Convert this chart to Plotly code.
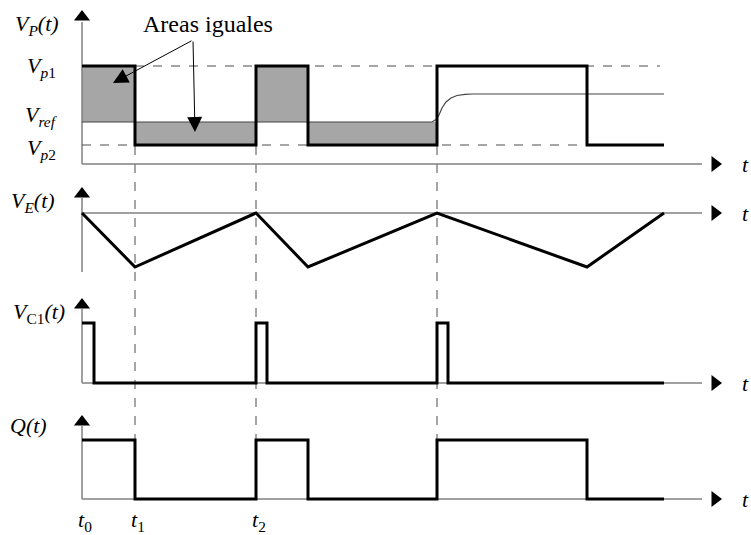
import plotly.graph_objects as go

# ---------------- data (schematic units) ----------------
t_edges = [0, 5.3, 17.4, 22.6, 35.5, 50.5, 58.2]   # switching instants
states = [1, 0, 1, 0, 1, 0]                          # Q / Vp state per interval
VP1, VP2, VREF = 9.8, 1.9, 4.2
vref_t = [0, 35.0, 35.4, 35.7, 36.0, 36.4, 36.9, 37.5, 38.3, 39.0, 58.2]
vref_v = [4.2, 4.2, 4.45, 4.9, 5.6, 6.2, 6.6, 6.85, 6.97, 7.0, 7.0]
ve_t = [0, 5.3, 17.4, 22.6, 35.5, 50.5, 58.2]
ve_v = [0, -5.4, 0, -5.4, 0, -5.4, 0]
vc1_pulses = [(0, 1.2), (17.4, 18.5), (35.5, 36.6)]
VC1_HIGH = 6.0
Q_HIGH = 5.9
FILL_END = 35.5
T_AXIS_END = 62.0
T_ARROW = 63.3
time_marks = [("t", "0", 0), ("t", "1", 5.3), ("t", "2", 17.4)]

BLACK = "#000000"
GRAY = "#808080"
DGRAY = "#4d4d4d"
FILLC = "#a6a6a6"
FONT = "Liberation Serif"


def step(levels_hi, levels_lo):
    xs, ys = [], []
    for i, s in enumerate(states):
        a, b = t_edges[i], t_edges[i + 1]
        v = levels_hi if s else levels_lo
        xs += [a, b]
        ys += [v, v]
    return xs, ys


fig = go.Figure()

H = 535.0
def pdom(top_px, bot_px):
    return [1 - bot_px / H, 1 - top_px / H]

fig.update_layout(
    width=751, height=535, margin=dict(l=0, r=0, t=0, b=0),
    paper_bgcolor="white", plot_bgcolor="white", showlegend=False,
    xaxis=dict(range=[-8.2, 66.9], visible=False, anchor="y4", fixedrange=True),
    yaxis=dict(domain=pdom(0, 175), range=[-1.1, 16.4], visible=False, anchor="x"),
    yaxis2=dict(domain=pdom(180, 280), range=[-6.7, 3.3], visible=False, anchor="x"),
    yaxis3=dict(domain=pdom(285, 395), range=[-1.2, 9.8], visible=False, anchor="x"),
    yaxis4=dict(domain=pdom(400, 535), range=[-3.6, 9.9], visible=False, anchor="x"),
)

def line(x, y, ya, color=BLACK, width=3, dash="solid", **kw):
    fig.add_trace(go.Scatter(x=x, y=y, mode="lines", yaxis=ya, xaxis="x",
                             line=dict(color=color, width=width, dash=dash),
                             hoverinfo="skip", **kw))

def marker(x, y, ya, sym, size=14):
    fig.add_trace(go.Scatter(x=[x], y=[y], mode="markers", yaxis=ya, xaxis="x",
                             marker=dict(symbol=sym, size=size, color=BLACK,
                                         line=dict(width=0)),
                             hoverinfo="skip"))

# ---------------- Panel 1: Vp(t) ----------------
fx, fy = [], []
for i, s in enumerate(states):
    a, b = t_edges[i], min(t_edges[i + 1], FILL_END)
    if a >= FILL_END:
        break
    v = VP1 if s else VP2
    fx += [a, b]
    fy += [v, v]
fx += [FILL_END, 0]
fy += [VREF, VREF]
fig.add_trace(go.Scatter(x=fx, y=fy, mode="lines", fill="toself", fillcolor=FILLC,
                         line=dict(width=0), yaxis="y", hoverinfo="skip"))

line([0, 0], [0, 14.2], "y", color=GRAY, width=1.5)
line([0, T_AXIS_END], [0, 0], "y", color=GRAY, width=1.5)
marker(0, 14.7, "y", "triangle-up")
marker(T_ARROW, 0, "y", "triangle-right")
line([t_edges[1], 57.8], [VP1, VP1], "y", color=DGRAY, width=1, dash="dash")
line([0, t_edges[5]], [VP2, VP2], "y", color=DGRAY, width=1, dash="dash")
line(vref_t, vref_v, "y", color="#444444", width=1.2)
xs, ys = step(VP1, VP2)
line(xs, ys, "y")

# ---------------- Panel 2: VE(t) ----------------
line([0, 0], [-5.9, 1.5], "y2", color=GRAY, width=1.5)
line([0, T_AXIS_END], [0, 0], "y2", color=GRAY, width=1.5)
marker(0, 1.9, "y2", "triangle-up")
marker(T_ARROW, 0, "y2", "triangle-right")
line(ve_t, ve_v, "y2")

# ---------------- Panel 3: VC1(t) ----------------
line([0, 0], [0, 7.4], "y3", color=GRAY, width=1.5)
line([0, T_AXIS_END], [0, 0], "y3", color=GRAY, width=1.5)
marker(0, 7.8, "y3", "triangle-up")
marker(T_ARROW, 0, "y3", "triangle-right")
cx, cy = [], []
for a, b in vc1_pulses:
    cx += [a, a, b, b]
    cy += [0, VC1_HIGH, VC1_HIGH, 0]
cx = cx[1:] + [t_edges[-1]]
cy = cy[1:] + [0]
line(cx, cy, "y3")

# ---------------- Panel 4: Q(t) ----------------
line([0, 0], [0, 7.3], "y4", color=GRAY, width=1.5)
line([0, T_AXIS_END], [0, 0], "y4", color=GRAY, width=1.5)
marker(0, 7.7, "y4", "triangle-up")
marker(T_ARROW, 0, "y4", "triangle-right")
xs, ys = step(Q_HIGH, 0)
line(xs, ys, "y4")

# ---------------- vertical dashed time markers ----------------
for tm in (t_edges[1], t_edges[2], t_edges[4]):
    fig.add_shape(type="line", xref="x", yref="paper", x0=tm, x1=tm,
                  y0=1 - 146 / H, y1=1 - 440 / H,
                  line=dict(color=DGRAY, width=1, dash="dash"), layer="below")

# ---------------- text ----------------
def txt(s, xpx, ypx, size=22):
    fig.add_annotation(text=s, x=xpx / 751, y=1 - ypx / H, xref="paper", yref="paper",
                       showarrow=False, font=dict(family=FONT, size=size, color=BLACK),
                       xanchor="center", yanchor="middle")

txt("<i>V<sub>P</sub>(t)</i>", 37, 25)
txt("<i>V</i><sub><i>p</i>1</sub>", 41, 67)
txt("<i>V<sub>ref</sub></i>", 41, 116)
txt("<i>V</i><sub><i>p</i>2</sub>", 41, 149)
txt("Areas iguales", 208, 24, size=24)
txt("<i>V<sub>E</sub>(t)</i>", 33, 202)
txt("<i>V</i><sub>C1</sub><i>(t)</i>", 39, 313)
txt("<i>Q(t)</i>", 28, 425)
for ypx in (164, 213, 383, 499):
    txt("<i>t</i>", 745, ypx)
for base, sub, tm in time_marks:
    txt(f"<i>{base}</i><sub>{sub}</sub>", 82 + 10 * tm + 3, 521)

for tipx, tipy in ((3.1, 8.1), (11.3, 3.2)):
    fig.add_annotation(x=tipx, y=tipy, ax=11.1, ay=12.4, xref="x", yref="y",
                       axref="x", ayref="y", text="", showarrow=True,
                       arrowhead=2, arrowsize=3, arrowwidth=1, arrowcolor=BLACK)

fig.write_html("out.html", config={"displayModeBar": False},
               post_script="document.body.style.margin='0';")
